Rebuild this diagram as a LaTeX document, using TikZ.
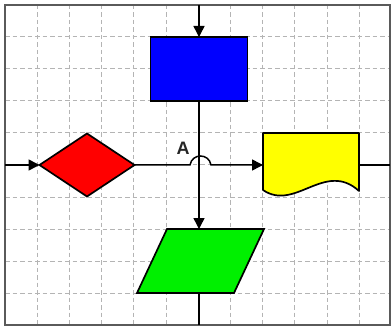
\documentclass[tikz,border=0pt]{standalone}
\usepackage{fontspec}
\setmainfont{Liberation Sans}
\usetikzlibrary{arrows.meta,shapes.geometric}
\definecolor{pblue}{RGB}{0,0,255}
\definecolor{pred}{RGB}{255,0,0}
\definecolor{pyellow}{RGB}{255,255,0}
\definecolor{pgreen}{RGB}{0,240,0}
\definecolor{gridc}{RGB}{180,180,180}
\definecolor{framec}{RGB}{90,90,90}
\begin{document}
\begin{tikzpicture}[x=1pt,y=-1pt,
  gridline/.style={draw=gridc,line width=1pt,dash pattern=on 4.5pt off 3pt},
  framebox/.style={draw=framec,line width=2pt},
  shapebox/.style={draw=black,line width=1.7pt,inner sep=0pt,outer sep=0pt},
  ghost/.style={draw=none,inner sep=0pt,outer sep=0pt},
  conn/.style={draw=black,line width=1.5pt},
  tip/.style={-{Triangle[length=11pt,width=11pt]}},
  lbl/.style={font=\bfseries\fontsize{18}{18}\selectfont,text=black!85}]
\useasboundingbox (0,0) rectangle (391,326);
\fill[white] (0,0) rectangle (391,326);
% grid
\foreach \i in {1,...,11} \draw[gridline] ({5+32.2*\i},5) -- ({5+32.2*\i},325);
\foreach \j in {1,...,9} \draw[gridline] (5,{5+32*\j}) -- (390,{5+32*\j});
\draw[framebox] (5,5) rectangle (390,325);
% shapes
\node[shapebox,rectangle,fill=pblue,minimum width=97pt,minimum height=64pt] (proc) at (199,69) {};
\node[shapebox,diamond,fill=pred,minimum width=95pt,minimum height=63pt] (dec) at (87,165) {};
\path[draw=black,fill=pgreen,line width=1.7pt,line join=miter]
  (167,229) -- (264,229) -- (234,293) -- (137,293) -- cycle;
\node[ghost,minimum width=127pt,minimum height=64pt] (io) at (200.5,261) {};
\path[draw=black,fill=pyellow,line width=1.7pt,line join=round]
  (263,133) -- (359,133) -- (359,191) .. controls (325,160) and (295,212) .. (263,190) -- cycle;
\node[ghost,minimum width=96pt,minimum height=64pt] (doc) at (311,165) {};
% connectors
\coordinate (top) at (199,5);
\coordinate (bot) at (199,325);
\coordinate (lft) at (5,165);
\coordinate (rgt) at (390,165);
\draw[conn,tip] (top) -- (proc.north);
\draw[conn,tip] (proc.south) -- (proc.south |- io.north);
\draw[conn] (bot |- io.south) -- (bot);
\draw[conn,tip] (lft) -- (dec.west);
\draw[conn,tip] (dec.east) -- (190,165) .. controls (192,153) and (209,153) .. (211,165) -- (doc.west);
\draw[conn] (doc.east) -- (rgt);
\node[lbl] (lblA) at (183,148) {A};
\end{tikzpicture}
\end{document}
